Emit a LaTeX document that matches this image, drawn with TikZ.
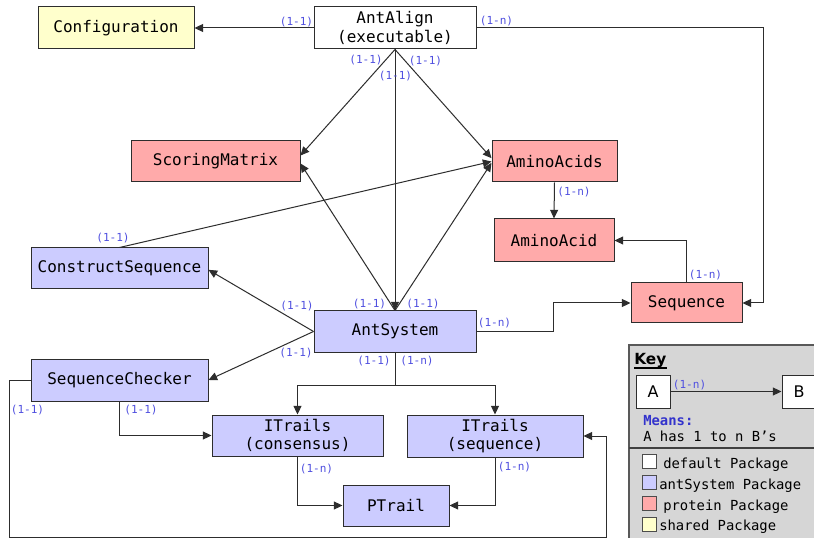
\documentclass[tikz,border=0pt]{standalone}
\usepackage{fontspec}
\setmainfont{DejaVu Sans}
\newfontfamily\monofam{DejaVu Sans Mono}
\usetikzlibrary{arrows.meta,calc}

\definecolor{sharedpkg}{RGB}{255,255,204}
\definecolor{proteinpkg}{RGB}{255,170,170}
\definecolor{antpkg}{RGB}{204,204,255}
\definecolor{cardblue}{RGB}{80,80,224}
\definecolor{meansblue}{RGB}{51,51,204}
\definecolor{keygrey}{RGB}{214,214,214}
\definecolor{linegrey}{RGB}{45,45,45}

\tikzset{
  pkg/.style={draw=linegrey, line width=0.75pt, inner sep=0pt, align=center,
    text=black, font=\monofam\fontsize{12}{14}\selectfont},
  link/.style={draw=linegrey, line width=0.75pt, -{Triangle[length=6.5pt,width=6pt]}},
  card/.style={text=cardblue, inner sep=0pt, font=\monofam\fontsize{8.3}{9}\selectfont},
  keytext/.style={inner sep=0pt, anchor=base west, font=\monofam\fontsize{10.4}{12}\selectfont},
  swatch/.style={draw=black!70, line width=0.75pt},
}

\begin{document}
\begin{tikzpicture}[x=0.75pt,y=-0.75pt]
\useasboundingbox (0,0) rectangle (814,538);
\clip (0,0) rectangle (814,538);
\fill[white] (0,0) rectangle (814,538);

% ---- classes ----
\node[pkg, fill=sharedpkg, minimum width=117pt, minimum height=31.5pt] (cfg) at (116,28) {Configuration};
\node[pkg, fill=white, minimum width=121.5pt, minimum height=31.5pt] (antalign) at (395,28) {AntAlign\\(executable)};
\node[pkg, fill=proteinpkg, minimum width=126.75pt, minimum height=30.75pt] (scoring) at (215.5,161.5) {ScoringMatrix};
\node[pkg, fill=proteinpkg, minimum width=93.75pt, minimum height=30.75pt] (aminos) at (554.5,161.5) {AminoAcids};
\node[pkg, fill=proteinpkg, minimum width=90pt, minimum height=32.25pt] (amino) at (554,240.5) {AminoAcid};
\node[pkg, fill=proteinpkg, minimum width=83.25pt, minimum height=30pt] (sequence) at (686.5,303) {Sequence};
\node[pkg, fill=antpkg, minimum width=132.75pt, minimum height=30.75pt] (construct) at (119.5,268.5) {ConstructSequence};
\node[pkg, fill=antpkg, minimum width=121.5pt, minimum height=30.75pt] (antsystem) at (395,331.5) {AntSystem};
\node[pkg, fill=antpkg, minimum width=132.75pt, minimum height=31.5pt] (checker) at (119.5,380) {SequenceChecker};
\node[pkg, fill=antpkg, minimum width=128.25pt, minimum height=30.75pt] (itcons) at (297.5,435.5) {ITrails\\(consensus)};
\node[pkg, fill=antpkg, minimum width=132pt, minimum height=31.5pt] (itseq) at (495,436) {ITrails\\(sequence)};
\node[pkg, fill=antpkg, minimum width=79.5pt, minimum height=30.75pt] (ptrail) at (396,505.5) {PTrail};

% ---- associations ----
\draw[link] (antalign.west) -- (cfg.east);
\draw[link] (antalign.east) -| ($(sequence.east)+(21,0)$) -- (sequence.east);
\draw[link] (antalign.south) -- ([yshift=4.5pt]scoring.east);
\draw[link] (antalign.south) -- (antsystem.north);
\draw[link] (antalign.south) -- ([yshift=2.5pt]aminos.west);
\draw[link] (antsystem.north) -- ([yshift=-1.5pt]scoring.east);
\draw[link] (antsystem.north) -- ([yshift=-1pt]aminos.west);
\draw[link] (construct.north) -- (aminos.west);
\draw[link] (antsystem.west) -- ([yshift=-1pt]construct.east);
\draw[link] (antsystem.west) -- (checker.east);
\draw[link] (antsystem.east) -- ++(77,0) |- (sequence.west);
\draw[link] (antsystem.south) -- ++(0,32.5) -| (itcons.north);
\draw[link] (antsystem.south) -- ++(0,32.5) -| (itseq.north);
\draw[link] (checker.south) |- (itcons.west);
\draw[link] (checker.west) -- ++(-21,0) |- ($(itseq.east)+(23,101)$) |- (itseq.east);
\draw[link] (itcons.south) |- (ptrail.west);
\draw[link] (itseq.south) |- (ptrail.east);
\draw[link] (aminos.south) -- (amino.north);
\draw[link] (sequence.north) |- (amino.east);

% ---- cardinalities ----
\node[card] (c1) at (296.5,22) {(1-1)};
\node[card] (c2) at (496.5,21) {(1-n)};
\node[card] (c3) at (366,60) {(1-1)};
\node[card] (c4) at (395.5,76) {(1-1)};
\node[card] (c5) at (425.5,61) {(1-1)};
\node[card] (c6) at (369.5,304) {(1-1)};
\node[card] (c7) at (423,304) {(1-1)};
\node[card] (c8) at (297,306) {(1-1)};
\node[card] (c9) at (296,353) {(1-1)};
\node[card] (c10) at (494.5,323) {(1-n)};
\node[card] (c11) at (374,361) {(1-1)};
\node[card] (c12) at (417,361) {(1-n)};
\node[card] (c13) at (113,238) {(1-1)};
\node[card] (c14) at (27.5,410) {(1-1)};
\node[card] (c15) at (141,410) {(1-1)};
\node[card] (c16) at (316.5,469) {(1-n)};
\node[card] (c17) at (514.5,467) {(1-n)};
\node[card] (c18) at (574,192) {(1-n)};
\node[card] (c19) at (705.5,275) {(1-n)};

% ---- key ----
\draw[draw=black!65, line width=1.2pt, fill=keygrey] (629,345) rectangle (830,540);
\draw[draw=black!75, line width=0.9pt] (629,448) -- (830,448);
\node[inner sep=0pt, anchor=base west, font=\bfseries\fontsize{11.5}{13}\selectfont] (keytitle) at (634,364) {Key};
\draw[line width=0.8pt] (634,368) -- (keytitle.south east |- 0,368);
\node[draw=linegrey, line width=0.75pt, fill=white, minimum width=25.5pt, minimum height=24.75pt,
  inner sep=0pt, font=\fontsize{12}{14}\selectfont] (keya) at (653,391.5) {A};
\node[draw=linegrey, line width=0.75pt, fill=white, minimum width=25.5pt, minimum height=24.75pt,
  inner sep=0pt, font=\fontsize{12}{14}\selectfont] (keyb) at (799,391.5) {B};
\draw[link] (keya.east) -- (keyb.west);
\node[card] (keycard) at (689.5,385) {(1-n)};
\node[keytext, text=meansblue, font=\monofam\bfseries\fontsize{10.4}{12}\selectfont] (means) at (643,425) {Means:};
\node[keytext] (meaning) at (643,441) {A has 1 to n B’s};

\draw[swatch, fill=white] (642,454) rectangle (656,468);
\draw[swatch, fill=antpkg] (642,475) rectangle (656,489);
\draw[swatch, fill=proteinpkg] (642,496) rectangle (656,510);
\draw[swatch, fill=sharedpkg] (642,517) rectangle (656,531);
\node[keytext] (lg1) at (663,468) {default Package};
\node[keytext] (lg2) at (659,489) {antSystem Package};
\node[keytext] (lg3) at (663,510) {protein Package};
\node[keytext] (lg4) at (659,530) {shared Package};
\end{tikzpicture}
\end{document}
